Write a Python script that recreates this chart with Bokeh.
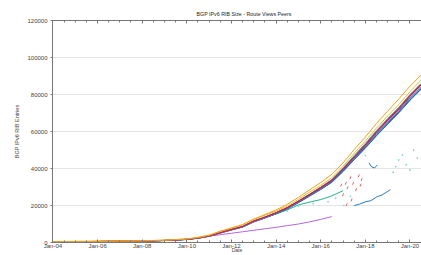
import pandas as pd
from bokeh.plotting import figure
from bokeh.models import FixedTicker, DatetimeTickFormatter, DatetimeAxis, Range1d, BasicTickFormatter
from bokeh.embed import file_html
from bokeh.resources import INLINE

# ---------------- data ----------------
dates = ["2004-01-01", "2006-01-01", "2008-01-01", "2009-01-01", "2010-01-01", "2010-07-01",
         "2011-01-01", "2011-07-01", "2012-01-01", "2012-07-01", "2013-01-01", "2013-07-01",
         "2014-01-01", "2014-07-01", "2015-01-01", "2015-07-01", "2016-01-01", "2016-07-01",
         "2017-01-01", "2017-07-01", "2018-01-01", "2018-07-01", "2019-01-01", "2019-07-01",
         "2020-01-01", "2020-07-01"]

peer_orange = [500, 700, 950, 1300, 1950, 2800, 4000, 6100, 7900, 9700, 12700, 15100, 17600, 20600,
               24400, 28400, 32400, 36800, 43000, 50200, 57000, 64300, 71000, 77500, 84500, 90500]
peer_yellow = [470, 660, 900, 1250, 1900, 2700, 3900, 5900, 7700, 9400, 12400, 14700, 17000, 19700,
               23300, 27200, 30800, 35000, 41200, 48200, 54800, 61800, 68400, 74500, 81500, 87800]
peer_blue = [380, 520, 760, 1050, 1620, 2300, 3350, 5100, 6750, 8300, 11100, 13200, 15500, 18100,
             21500, 25000, 28600, 32500, 38300, 44700, 51000, 57600, 64000, 70000, 76800, 82800]
peer_steel = [390, 530, 780, 1080, 1660, 2350, 3420, 5200, 6850, 8450, 11300, 13400, 15750, 18400,
              21850, 25400, 29000, 33000, 38900, 45300, 51700, 58400, 64900, 70800, 77800, 83600]
peer_red = [420, 570, 830, 1130, 1740, 2450, 3560, 5380, 7100, 8700, 11650, 13750, 16150, 18900,
            22400, 26000, 29800, 33800, 39900, 46400, 53000, 60000, 66600, 72600, 79600, 85600]
peer_crimson = [410, 560, 810, 1110, 1710, 2420, 3520, 5320, 7030, 8640, 11550, 13650, 16050, 18750,
                22250, 25850, 29550, 33550, 39600, 46100, 52600, 59600, 66100, 72100, 79100, 85200]
peer_teal = [400, 550, 800, 1100, 1700, 2400, 3500, 5300, 7000, 8600, 11500, 13600, 16000, 18800,
             22400, 26100, 29900, 34000, 40300, 47000, 53600, 60500, 67000, 73000, 80000, 86000]
peer_purple = [395, 545, 795, 1095, 1690, 2390, 3480, 5270, 6960, 8560, 11450, 13550, 15900, 18550,
               22000, 25600, 29300, 33200, 39100, 45600, 52000, 58900, 65300, 71300, 78300, 84300]
peer_green = [405, 555, 805, 1105, 1710, 2410, 3510, 5310, 7010, 8610, 11520, 13620, 16020, 18720,
              22220, 25820, 29520, 33520, 39520, 46050, 52550, 59550, 66050, 72050, 79050, 85050]
peer_navy = [380, 530, 770, 1060, 1640, 2320, 3380, 5150, 6800, 8400, 11200, 13300, 15600, 18200,
             21600, 25200, 28800, 32700, 38600, 45000, 51300, 57900, 64300, 70400, 77200, 83000]
peer_pink = [415, 565, 820, 1120, 1730, 2440, 3540, 5350, 7060, 8680, 11600, 13700, 16100, 18850,
             22350, 25950, 29700, 33700, 39800, 46300, 52800, 59800, 66300, 72300, 79300, 85400]

lav_dates = dates[:18]
peer_lavender = [400, 550, 800, 1100, 1700, 2400, 3400, 4200, 5000, 5800, 6600, 7400, 8200, 9100,
                 10000, 11100, 12500, 14000]

sea_dates = dates[:19]
peer_seagreen = [400, 550, 800, 1100, 1700, 2400, 3500, 5300, 7000, 8600, 11400, 13400, 15400, 17600,
                 20300, 21800, 23200, 25200, 28000]

low_blue_dates = ["2017-07-01", "2017-10-01", "2018-01-01", "2018-04-01", "2018-07-01",
                  "2018-10-01", "2019-01-01", "2019-02-15"]
low_blue_vals = [19900, 20800, 22000, 22600, 24600, 25700, 27600, 28500]

hook_dates = ["2018-03-01", "2018-04-15", "2018-06-01", "2018-07-15"]
hook_vals = [43000, 40800, 40300, 41900]

red_dates = ["2016-12-01", "2017-01-01", "2017-02-15", "2017-03-15", "2017-05-01", "2017-05-20",
             "2017-06-15", "2017-08-01", "2017-09-15", "2017-10-15", "2017-03-01", "2017-11-01"]
red_vals = [31000, 25800, 32000, 29600, 35000, 23000, 32000, 28500, 36000, 31000, 20400, 34000]

cyan_dates = ["2019-04-01", "2019-07-01", "2019-09-01", "2019-11-01", "2020-01-01",
              "2020-03-01", "2020-05-01", "2019-05-15"]
cyan_vals = [38000, 44600, 47300, 42000, 39200, 50000, 45700, 41000]

dot_dates = ["2014-07-01", "2015-01-01", "2015-09-01", "2016-05-01", "2016-09-01",
             "2017-01-15", "2017-05-01", "2018-01-01"]
dot_vals = [17000, 19500, 21000, 22000, 24000, 20000, 25000, 47000]

tick_years = [2004, 2006, 2008, 2010, 2012, 2014, 2016, 2018, 2020]
y_ticks = [0, 20000, 40000, 60000, 80000, 100000, 120000]

# ---------------- figure ----------------
FONT = "Liberation Sans"
x_start = pd.Timestamp("2003-12-25")
x_end = pd.Timestamp("2020-07-08")

p = figure(width=421, height=255, x_axis_type="datetime", output_backend="svg",
           toolbar_location=None, x_range=Range1d(x_start, x_end), y_range=Range1d(0, 120000),
           min_border_left=52, min_border_right=0, min_border_top=20, min_border_bottom=12,
           title="BGP IPv6 RIB Size - Route Views Peers")

p.title.text_font = FONT
p.title.text_font_size = "5.3px"
p.title.text_font_style = "normal"
p.title.text_color = "#222222"
p.title.align = "left"
p.title.offset = 144
p.title.standoff = 8

p.outline_line_color = None
p.background_fill_color = "white"
p.xgrid.grid_line_color = None
p.ygrid.grid_line_color = "#e4e4e4"
p.ygrid.grid_line_width = 1

td = lambda s: pd.to_datetime(s)

def ms(y, m=1):
    return pd.Timestamp(year=y, month=m, day=1).value // 10**6

major = [ms(y) for y in tick_years]
minor = [ms(y, m) for y in range(2004, 2021) for m in (1, 7)]
ticker = FixedTicker(ticks=major, minor_ticks=minor)

fmt = DatetimeTickFormatter(years="%b-%y", months="%b-%y", days="%b-%y", hours="%b-%y",
                            minutes="%b-%y", seconds="%b-%y", milliseconds="%b-%y",
                            microseconds="%b-%y", hourmin="%b-%y", minsec="%b-%y")

xa = p.xaxis[0]
xa.ticker = ticker
xa.formatter = fmt
xa.axis_label = "Date"
xa.axis_label_text_font = FONT
xa.axis_label_text_font_size = "5px"
xa.axis_label_text_font_style = "normal"
xa.axis_label_standoff = -5
xa.major_label_text_font = FONT
xa.major_label_text_font_size = "6px"
xa.major_label_standoff = 0
xa.major_tick_in = 3
xa.major_tick_out = 0
xa.minor_tick_in = 2
xa.minor_tick_out = 0
xa.axis_line_color = "#777777"
xa.major_tick_line_color = "#777777"
xa.minor_tick_line_color = "#777777"

top = DatetimeAxis(ticker=ticker, formatter=fmt)
top.major_label_text_font_size = "0px"
top.major_label_text_color = None
top.major_tick_in = 3
top.major_tick_out = 0
top.minor_tick_in = 2
top.minor_tick_out = 0
top.axis_line_color = "#777777"
top.major_tick_line_color = "#777777"
top.minor_tick_line_color = "#777777"
top.major_label_standoff = 0
p.add_layout(top, "above")

ya = p.yaxis[0]
ya.ticker = FixedTicker(ticks=y_ticks)
ya.formatter = BasicTickFormatter(use_scientific=False)
ya.axis_label = "BGP IPv6 RIB Entries"
ya.axis_label_text_font = FONT
ya.axis_label_text_font_size = "5.5px"
ya.axis_label_text_font_style = "normal"
ya.axis_label_standoff = 4
ya.major_label_text_font = FONT
ya.major_label_text_font_size = "6px"
ya.major_label_standoff = 3
ya.major_tick_in = 0
ya.major_tick_out = 2
ya.minor_tick_line_color = None
ya.axis_line_color = "#777777"
ya.major_tick_line_color = "#777777"

# ---------------- glyphs ----------------
X = td(dates)
p.line(td(lav_dates), peer_lavender, line_color="#b565d9", line_width=1)
p.line(td(sea_dates), peer_seagreen, line_color="#22b28e", line_width=1)

bundle = [
    (peer_navy, "#1c3f94"), (peer_blue, "#1f6fb4"), (peer_steel, "#3b8fd0"),
    (peer_purple, "#7b4fb0"), (peer_green, "#2ca02c"), (peer_teal, "#17becf"),
    (peer_pink, "#e377c2"), (peer_red, "#d62728"), (peer_crimson, "#c2185b"),
    (peer_yellow, "#e0c020"), (peer_orange, "#f0a020"),
]
for vals, col in bundle:
    p.line(X, vals, line_color=col, line_width=1)

p.line(td(low_blue_dates), low_blue_vals, line_color="#2a7ab8", line_width=1)
p.line(td(hook_dates), hook_vals, line_color="#2a7ab8", line_width=1)
p.scatter(td(red_dates), red_vals, marker="dash", size=3, angle=1.2, line_color="#e06060", line_width=1)
p.scatter(td(cyan_dates), cyan_vals, marker="circle", size=1, line_color="#7fd0dd", fill_color="#7fd0dd")
p.scatter(td(dot_dates), dot_vals, marker="circle", size=1, line_color="#9fd0c8", fill_color="#9fd0c8")

open("out.html", "w").write(file_html(p, INLINE))
